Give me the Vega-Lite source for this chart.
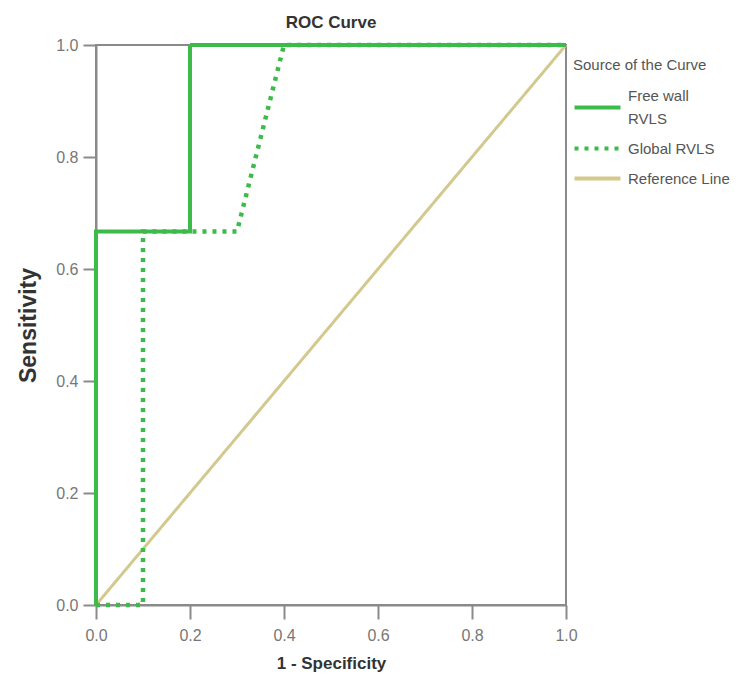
{
  "$schema": "https://vega.github.io/schema/vega-lite/v6.json",
  "autosize": {"type": "none"},
  "padding": {"left": 96, "top": 45, "right": 172, "bottom": 72},
  "width": 470,
  "height": 560,
  "background": "white",
  "title": {
    "text": "ROC Curve",
    "fontSize": 17,
    "font": "Liberation Sans",
    "fontWeight": "bold",
    "color": "#333333",
    "offset": 4
  },
  "config": {
    "font": "Liberation Sans",
    "view": {"stroke": "#8a8a8a", "strokeWidth": 2},
    "axis": {
      "grid": false,
      "domainColor": "#8a8a8a",
      "domainWidth": 2,
      "tickColor": "#8a8a8a",
      "tickWidth": 2,
      "tickSize": 14,
      "labelColor": "#777777",
      "labelFontSize": 16,
      "labelPadding": 5,
      "labelFlush": false,
      "titleFontWeight": "bold",
      "titleColor": "#333333"
    }
  },
  "data": {
    "values": [
      {"curve": "Free wall RVLS", "step": 1, "fpr": 0.0, "tpr": 0.0},
      {"curve": "Free wall RVLS", "step": 2, "fpr": 0.0, "tpr": 0.667},
      {"curve": "Free wall RVLS", "step": 3, "fpr": 0.2, "tpr": 0.667},
      {"curve": "Free wall RVLS", "step": 4, "fpr": 0.2, "tpr": 1.0},
      {"curve": "Free wall RVLS", "step": 5, "fpr": 1.0, "tpr": 1.0},
      {"curve": "Global RVLS", "step": 1, "fpr": 0.0, "tpr": 0.0},
      {"curve": "Global RVLS", "step": 2, "fpr": 0.1, "tpr": 0.0},
      {"curve": "Global RVLS", "step": 3, "fpr": 0.1, "tpr": 0.667},
      {"curve": "Global RVLS", "step": 4, "fpr": 0.3, "tpr": 0.667},
      {"curve": "Global RVLS", "step": 5, "fpr": 0.4, "tpr": 1.0},
      {"curve": "Global RVLS", "step": 6, "fpr": 1.0, "tpr": 1.0},
      {"curve": "Reference Line", "step": 1, "fpr": 0.0, "tpr": 0.0},
      {"curve": "Reference Line", "step": 2, "fpr": 1.0, "tpr": 1.0}
    ]
  },
  "encoding": {
    "x": {
      "field": "fpr",
      "type": "quantitative",
      "title": "1 - Specificity",
      "scale": {"domain": [0, 1], "nice": false, "zero": false},
      "axis": {
        "values": [0, 0.2, 0.4, 0.6, 0.8, 1.0],
        "format": ".1f",
        "labelPadding": 8,
        "titleFontSize": 17,
        "titlePadding": 12
      }
    },
    "y": {
      "field": "tpr",
      "type": "quantitative",
      "title": "Sensitivity",
      "scale": {"domain": [0, 1], "nice": false, "zero": false},
      "axis": {
        "values": [0, 0.2, 0.4, 0.6, 0.8, 1.0],
        "format": ".1f",
        "tickSize": 13,
        "titleFontSize": 23,
        "titlePadding": 15
      }
    },
    "order": {"field": "step", "type": "quantitative"},
    "color": {
      "field": "curve",
      "type": "nominal",
      "scale": {
        "domain": ["Free wall RVLS", "Global RVLS", "Reference Line"],
        "range": ["#3dbb4a", "#3dbb4a", "#d3c98e"]
      },
      "legend": {
        "title": "Source of the Curve",
        "orient": "none",
        "legendX": 477,
        "legendY": 13,
        "titleFontSize": 15,
        "titleFontWeight": "normal",
        "titleColor": "#555555",
        "titlePadding": 21,
        "labelFontSize": 15,
        "labelColor": "#555555",
        "labelOffset": 17,
        "symbolType": "M-2,0H2",
        "symbolSize": 529,
        "symbolStrokeWidth": 4,
        "rowPadding": 8,
        "labelExpr": "datum.label == 'Free wall RVLS' ? ['Free wall', 'RVLS'] : datum.label",
        "encode": {
          "title": {"update": {"dx": {"value": -11}}},
          "labels": {
            "update": {
              "lineHeight": {"signal": "datum.value == 'Free wall RVLS' ? 23 : 15"},
              "dy": {"signal": "datum.value == 'Free wall RVLS' ? -11.5 : 0"}
            }
          }
        }
      }
    },
    "strokeDash": {
      "field": "curve",
      "type": "nominal",
      "scale": {
        "domain": ["Free wall RVLS", "Global RVLS", "Reference Line"],
        "range": [[1, 0], [4, 6], [1, 0]]
      },
      "legend": {
        "title": "Source of the Curve",
        "orient": "none",
        "legendX": 477,
        "legendY": 13,
        "titleFontSize": 15,
        "titleFontWeight": "normal",
        "titleColor": "#555555",
        "titlePadding": 21,
        "labelFontSize": 15,
        "labelColor": "#555555",
        "labelOffset": 17,
        "symbolType": "M-2,0H2",
        "symbolSize": 529,
        "symbolStrokeWidth": 4,
        "rowPadding": 8,
        "labelExpr": "datum.label == 'Free wall RVLS' ? ['Free wall', 'RVLS'] : datum.label",
        "encode": {
          "title": {"update": {"dx": {"value": -11}}},
          "labels": {
            "update": {
              "lineHeight": {"signal": "datum.value == 'Free wall RVLS' ? 23 : 15"},
              "dy": {"signal": "datum.value == 'Free wall RVLS' ? -11.5 : 0"}
            }
          }
        }
      }
    }
  },
  "layer": [
    {
      "transform": [{"filter": "datum.curve == 'Reference Line'"}],
      "mark": {"type": "line", "strokeWidth": 3, "strokeCap": "butt"}
    },
    {
      "transform": [{"filter": "datum.curve == 'Global RVLS'"}],
      "mark": {"type": "line", "strokeWidth": 4.5, "strokeCap": "butt"}
    },
    {
      "transform": [{"filter": "datum.curve == 'Free wall RVLS'"}],
      "mark": {"type": "line", "strokeWidth": 4, "strokeCap": "butt"}
    }
  ]
}
